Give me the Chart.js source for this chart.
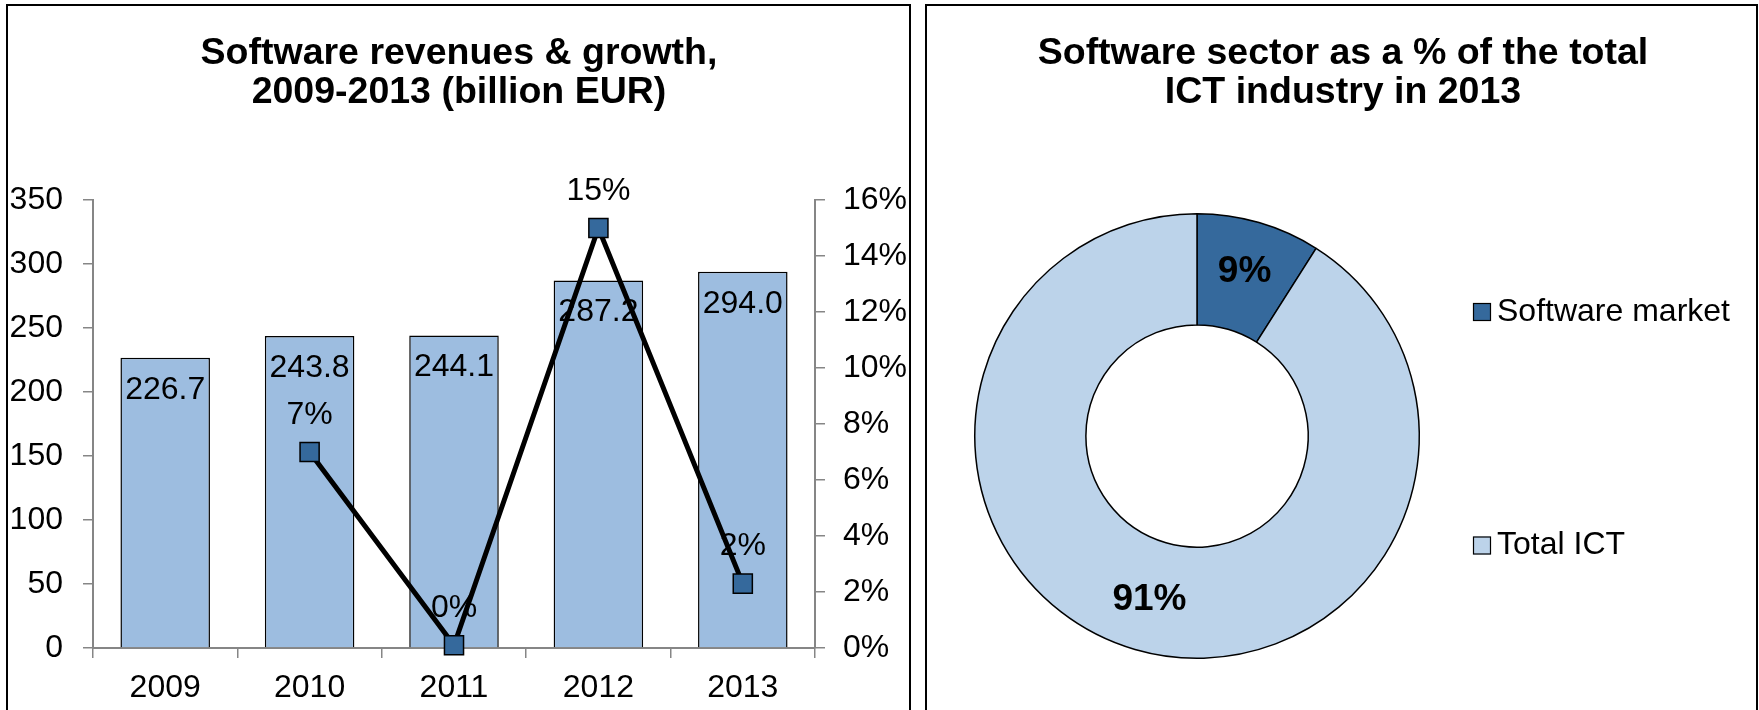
<!DOCTYPE html>
<html><head><meta charset="utf-8">
<script src="https://cdn.jsdelivr.net/npm/chart.js@4.4.1/dist/chart.umd.min.js"></script>
<style>
html,body{margin:0;padding:0;background:#fff;width:1759px;height:710px;overflow:hidden;}
.panel{position:absolute;box-sizing:border-box;border:2px solid #000;}
canvas{position:absolute;top:0;}
</style></head><body>
<div class="panel" style="left:6px;top:4px;width:905px;height:800px"></div>
<div class="panel" style="left:925px;top:4px;width:833px;height:800px"></div>
<canvas id="c1" width="918" height="710" style="left:0px"></canvas>
<canvas id="c2" width="832" height="710" style="left:927px"></canvas>
<script>
// ---- data ----
const years = ['2009', '2010', '2011', '2012', '2013'];
const revenues = [226.7, 243.8, 244.1, 287.2, 294.0];
const growth = [null, 7.0, 0.1, 15.0, 2.3];
const revenueAxis = [0, 350, 50];   // min, max, step
const growthAxis = [0, 16, 2];      // min, max, step (%)
const leftTitle = ['Software revenues & growth,', '2009-2013 (billion EUR)'];

const shareLabels = ['Software market', 'Total ICT'];
const shares = [9, 91];
const rightTitle = ['Software sector as a % of the total', 'ICT industry in 2013'];

// ---- styling ----
const FONT = "'Liberation Sans', Arial, Helvetica, sans-serif";
Chart.defaults.font.family = FONT;
Chart.defaults.color = '#000';
const AXIS_GRAY = '#868686';
const BAR_BLUE = '#9DBDE0';
const DARK_BLUE = '#35699C';
const LIGHT_BLUE = '#BCD3EA';
const TXT = 32;

const valueLabels = {
  id: 'valueLabels',
  beforeDatasetDraw(chart, args) {
    if (chart.data.datasets[args.index].type !== 'line') return;
    const ctx = chart.ctx;
    ctx.save();
    ctx.font = TXT + 'px ' + FONT;
    ctx.fillStyle = '#000';
    ctx.textAlign = 'center';
    ctx.textBaseline = 'middle';
    chart.getDatasetMeta(0).data.forEach((el, i) => {
      ctx.fillText(revenues[i].toFixed(1), el.x, el.y + 32);
    });
    chart.getDatasetMeta(1).data.forEach((el, i) => {
      if (growth[i] == null) return;
      ctx.fillText(Math.round(growth[i]) + '%', el.x, el.y - 37);
    });
    ctx.restore();
  }
};

new Chart(document.getElementById('c1'), {
  type: 'bar',
  data: {
    labels: years,
    datasets: [
      {
        type: 'bar', label: 'Revenues', data: revenues, yAxisID: 'y', order: 1,
        backgroundColor: BAR_BLUE, borderColor: '#000', borderWidth: 1.5,
        categoryPercentage: 1.0, barPercentage: 0.62
      },
      {
        type: 'line', label: 'Growth', data: growth, yAxisID: 'y2', order: 0,
        borderColor: '#000', borderWidth: 5, fill: false, tension: 0,
        pointStyle: 'rect', pointRadius: 13.5, pointBackgroundColor: DARK_BLUE,
        pointBorderColor: '#000', pointBorderWidth: 1.5, clip: false
      }
    ]
  },
  options: {
    responsive: false, animation: false, events: [],
    layout: { padding: 0 },
    plugins: {
      legend: { display: false }, tooltip: { enabled: false },
      title: {
        display: true, text: leftTitle, color: '#000',
        font: { size: 37.5, weight: 'bold', lineHeight: 1.04 },
        padding: { top: 34, bottom: 88 }
      }
    },
    scales: {
      x: {
        offset: true,
        grid: { display: true, drawOnChartArea: false, drawTicks: true, tickLength: 10, color: AXIS_GRAY, lineWidth: 1.5, offset: true },
        border: { display: true, color: AXIS_GRAY, width: 2 },
        ticks: { font: { size: TXT }, color: '#000', padding: 11 },
        afterFit: s => { s.height = 62; }
      },
      y: {
        position: 'left', min: revenueAxis[0], max: revenueAxis[1],
        grid: { drawOnChartArea: false, tickLength: 10, color: AXIS_GRAY, lineWidth: 1.5 },
        border: { display: true, color: AXIS_GRAY, width: 2 },
        ticks: { stepSize: revenueAxis[2], font: { size: TXT }, color: '#000', padding: 20 },
        afterFit: s => { s.width = 93; }
      },
      y2: {
        position: 'right', min: growthAxis[0], max: growthAxis[1],
        grid: { drawOnChartArea: false, tickLength: 10, color: AXIS_GRAY, lineWidth: 1.5 },
        border: { display: true, color: AXIS_GRAY, width: 2 },
        ticks: { stepSize: growthAxis[2], font: { size: TXT }, color: '#000', padding: 18, callback: v => v + '%' },
        afterFit: s => { s.width = 103; }
      }
    }
  },
  plugins: [valueLabels]
});

const donutLabels = {
  id: 'donutLabels',
  afterDatasetsDraw(chart) {
    const ctx = chart.ctx;
    ctx.save();
    ctx.font = 'bold 37px ' + FONT;
    ctx.fillStyle = '#000';
    ctx.textAlign = 'center';
    ctx.textBaseline = 'middle';
    chart.getDatasetMeta(0).data.forEach((arc, i) => {
      const p = arc.getProps(['x', 'y', 'startAngle', 'endAngle', 'innerRadius', 'outerRadius']);
      const a = (p.startAngle + p.endAngle) / 2;
      const r = p.innerRadius + (p.outerRadius - p.innerRadius) * 0.535;
      ctx.fillText(shares[i] + '%', p.x + Math.cos(a) * r, p.y + Math.sin(a) * r);
    });
    ctx.restore();
  }
};

// legend as a real layout box on the right side of the doughnut
const sideLegend = {
  id: 'sideLegend',
  beforeInit(chart, args, opts) {
    const box = {
      position: 'right', weight: 0, fullSize: false, options: {},
      left: 0, top: 0, right: 0, bottom: 0, width: 0, height: 0,
      isHorizontal() { return false; },
      getPadding() { return { top: 0, left: 0, bottom: 0, right: 0 }; },
      update(maxWidth, maxHeight) { this.width = opts.width; this.height = maxHeight; },
      draw() {
        const ctx = chart.ctx;
        const ds = chart.data.datasets[0];
        ctx.save();
        ctx.font = opts.fontSize + 'px ' + FONT;
        ctx.textBaseline = 'middle';
        ctx.textAlign = 'left';
        chart.data.labels.forEach((lab, i) => {
          const cy = opts.rows[i];
          const x = this.left + opts.inset;
          ctx.fillStyle = ds.backgroundColor[i];
          ctx.fillRect(x, cy - opts.box / 2, opts.box, opts.box);
          ctx.strokeStyle = '#000';
          ctx.lineWidth = 1.2;
          ctx.strokeRect(x + 0.5, cy - opts.box / 2 + 0.5, opts.box - 1, opts.box - 1);
          ctx.fillStyle = '#000';
          ctx.fillText(lab, x + opts.box + 6, cy);
        });
        ctx.restore();
      }
    };
    Chart.layouts.addBox(chart, box);
  }
};

new Chart(document.getElementById('c2'), {
  type: 'doughnut',
  data: {
    labels: shareLabels,
    datasets: [{
      data: shares, backgroundColor: [DARK_BLUE, LIGHT_BLUE],
      borderColor: '#000', borderWidth: 1.5
    }]
  },
  options: {
    responsive: false, animation: false, events: [],
    cutout: '50%',
    layout: { padding: { left: 0, right: 0, top: 0, bottom: 51 } },
    plugins: {
      legend: { display: false }, tooltip: { enabled: false },
      title: {
        display: true, text: rightTitle, color: '#000',
        font: { size: 37.5, weight: 'bold', lineHeight: 1.04 },
        padding: { top: 34, bottom: 101 }
      },
      sideLegend: { width: 292, inset: 6, rows: [312, 545.5], box: 18, fontSize: 32 }
    }
  },
  plugins: [donutLabels, sideLegend]
});
</script>
</body></html>
